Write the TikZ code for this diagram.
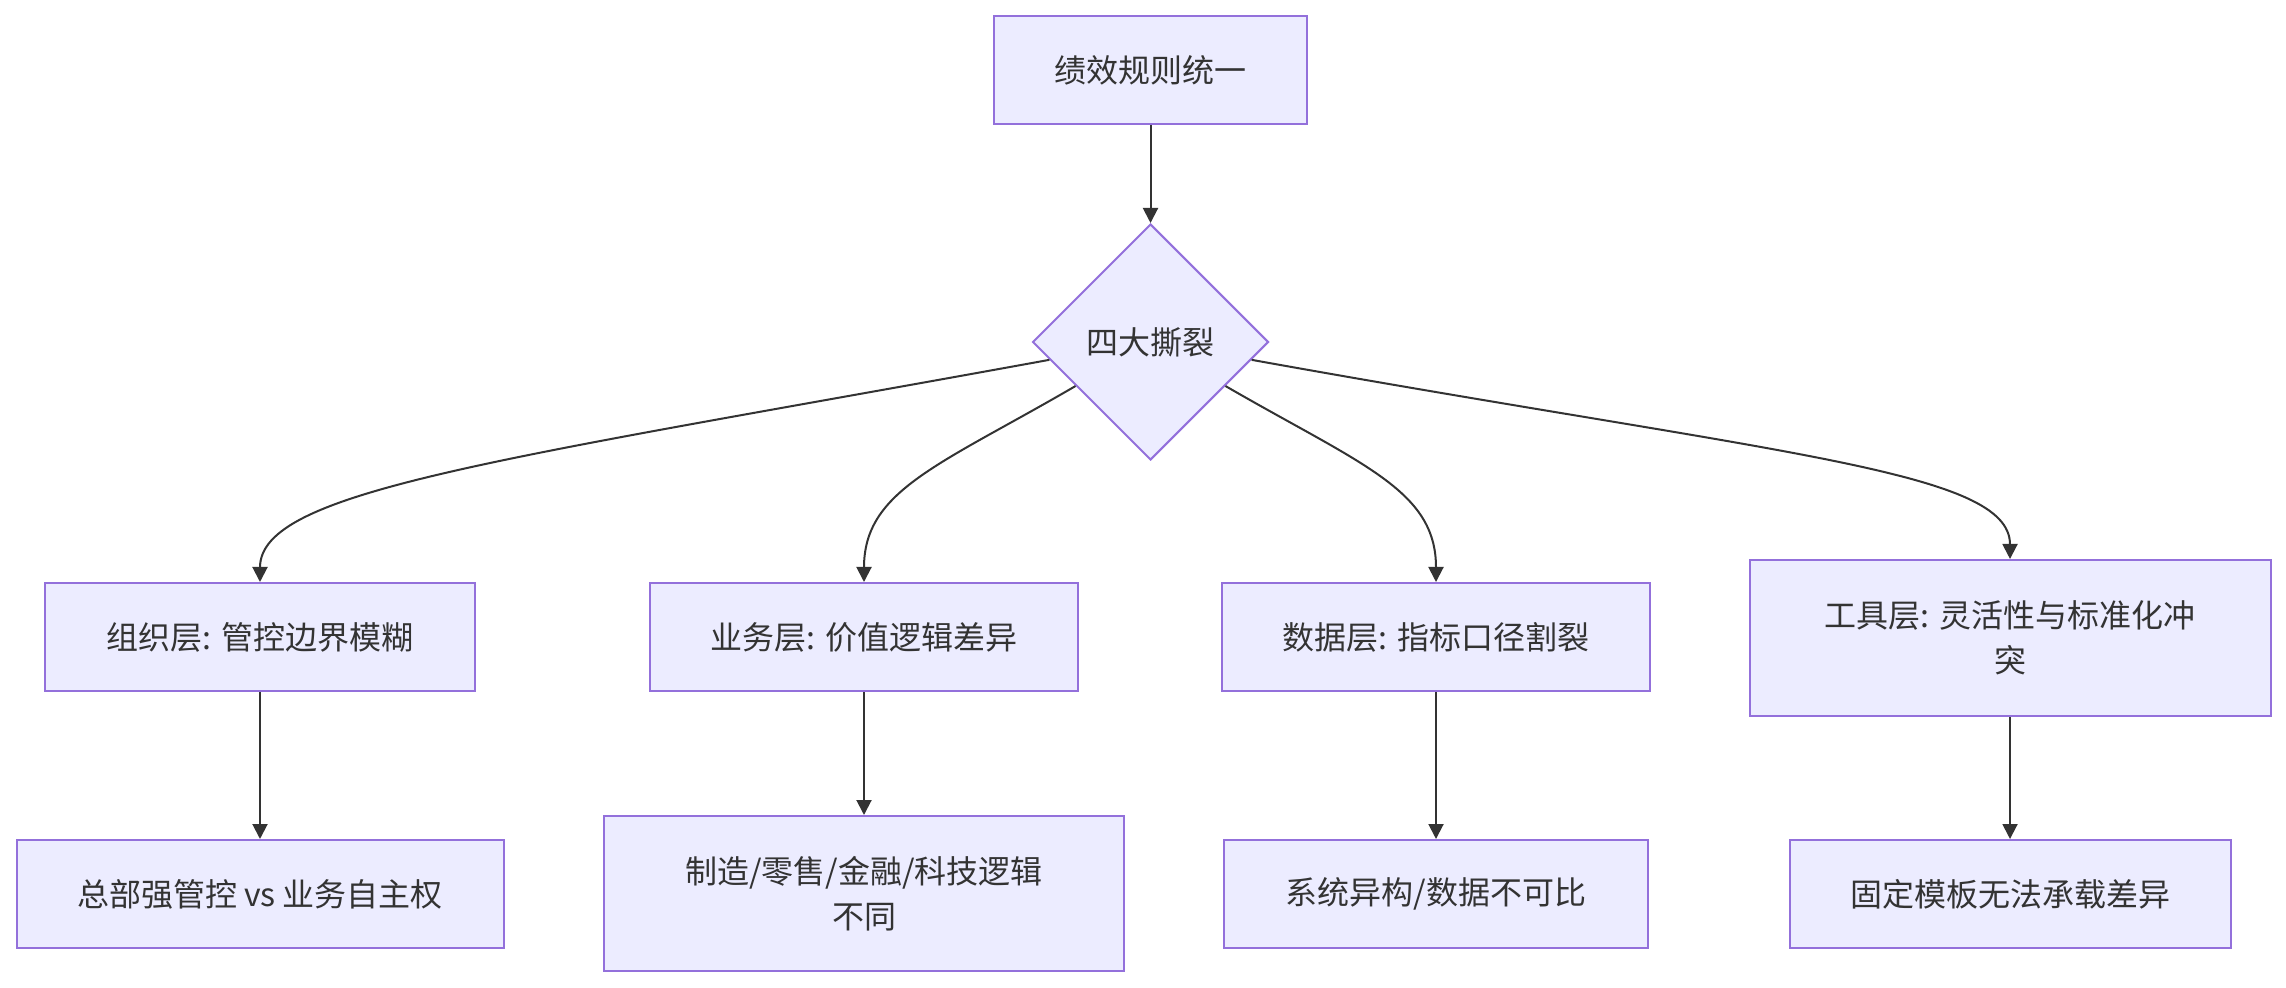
\documentclass[tikz,border=0pt]{standalone}
\usepackage{fontspec}
\setmainfont{Noto Sans CJK SC}
\usetikzlibrary{shapes.geometric,arrows.meta,calc}
\definecolor{nfill}{HTML}{ECECFF}
\definecolor{nline}{HTML}{9370DB}
\definecolor{tcol}{HTML}{333333}
\begin{document}
\begin{tikzpicture}[x=0.5pt,y=-0.5pt,
  box/.style={draw=nline,fill=nfill,line width=1pt,text=tcol,align=center,inner sep=0pt,
    font=\fontsize{16}{22.5}\selectfont},
  dia/.style={box,diamond,aspect=1,minimum width=118pt,minimum height=118pt},
  conn/.style={draw=tcol,line width=1pt,-{Triangle[length=7.5pt,width=7.5pt]}}]
\useasboundingbox (0,0) rectangle (2286,988);
\node[box,minimum width=156.5pt,minimum height=54pt] (top) at (1150.5,70) {绩效规则统一};
\node[dia] (d) at (1150.5,342) {四大撕裂};
\node[box,minimum width=215pt,minimum height=54pt] (n1) at (260,637) {组织层: 管控边界模糊};
\node[box,minimum width=214pt,minimum height=54pt] (n2) at (864,637) {业务层: 价值逻辑差异};
\node[box,minimum width=214pt,minimum height=54pt] (n3) at (1436,637) {数据层: 指标口径割裂};
\node[box,minimum width=260.5pt,minimum height=78pt] (n4) at (2010,638) {工具层: 灵活性与标准化冲\\突};
\node[box,minimum width=243.5pt,minimum height=54pt] (n5) at (260,894) {总部强管控 vs 业务自主权};
\node[box,minimum width=260pt,minimum height=77.5pt] (n6) at (864,893.5) {制造/零售/金融/科技逻辑\\不同};
\node[box,minimum width=212pt,minimum height=54pt] (n7) at (1436,894) {系统异构/数据不可比};
\node[box,minimum width=220.5pt,minimum height=54pt] (n8) at (2010,894) {固定模板无法承载差异};
\coordinate (s1) at ($(d.west)!0.15!(d.south)$);
\coordinate (s2) at ($(d.west)!0.37!(d.south)$);
\coordinate (s3) at ($(d.east)!0.37!(d.south)$);
\coordinate (s4) at ($(d.east)!0.15!(d.south)$);
\draw[conn] (top.south) -- (d.north);
\draw[conn] (s1) .. controls (500,460) and (260,490) .. (n1.north);
\draw[conn] (s2) .. controls (940,465) and (864,490) .. (n2.north);
\draw[conn] (s3) .. controls (1362,465) and (1436,490) .. (n3.north);
\draw[conn] (s4) .. controls (1780,455) and (2010,470) .. (n4.north);
\draw[conn] (n1.south) -- (n5.north);
\draw[conn] (n2.south) -- (n6.north);
\draw[conn] (n3.south) -- (n7.north);
\draw[conn] (n4.south) -- (n8.north);
\end{tikzpicture}
\end{document}
